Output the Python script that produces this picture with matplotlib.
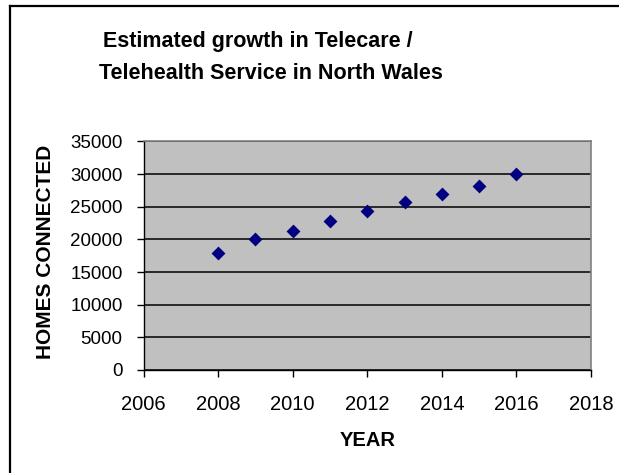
import matplotlib
matplotlib.use("Agg")
import matplotlib.pyplot as plt
from matplotlib.lines import Line2D

years = [2008, 2009, 2010, 2011, 2012, 2013, 2014, 2015, 2016]
homes = [17900, 20000, 21300, 22750, 24300, 25800, 27000, 28250, 30000]
x_ticks = [2006, 2008, 2010, 2012, 2014, 2016, 2018]
y_ticks = [0, 5000, 10000, 15000, 20000, 25000, 30000, 35000]

plt.rcParams['font.family'] = ['Liberation Sans', 'DejaVu Sans']

W, H = 619, 473
fig = plt.figure(figsize=(W / 100, H / 100), dpi=100)
fig.patch.set_facecolor('white')

# partial outer chart border (top and left visible)
fig.add_artist(Line2D([10 / W, 10 / W], [0, 1 - 6 / H], color='black', lw=1.6, transform=fig.transFigure))
fig.add_artist(Line2D([10 / W, 1], [1 - 6 / H, 1 - 6 / H], color='black', lw=1.6, transform=fig.transFigure))

left, right, top, bottom = 143.5, 591, 141.5, 370
ax = fig.add_axes([left / W, 1 - bottom / H, (right - left) / W, (bottom - top) / H])
ax.set_facecolor('#C0C0C0')
ax.set_xlim(2006, 2018)
ax.set_ylim(0, 35000)
ax.set_xticks(x_ticks)
ax.set_yticks(y_ticks)
ax.set_xticklabels([str(t) for t in x_ticks], fontsize=14.5)
ax.set_yticklabels([str(t) for t in y_ticks], fontsize=13.5)
ax.yaxis.grid(True, color='black', lw=1.1)
ax.set_axisbelow(True)
for s in ['top', 'right']:
    ax.spines[s].set_color('#808080')
    ax.spines[s].set_linewidth(1.2)
for s in ['left', 'bottom']:
    ax.spines[s].set_color('black')
    ax.spines[s].set_linewidth(1.0)
ax.tick_params(direction='out', length=5, width=1, colors='black')
ax.tick_params(axis='x', pad=13)
ax.tick_params(axis='y', pad=10)

ax.scatter(years, homes, marker='D', s=50, color='#000080', zorder=3, linewidths=0)

fig.text(367.5 / W, 1 - 446 / H, 'YEAR', ha='center', va='baseline',
         fontsize=14.5, fontweight='bold')
fig.text(45.5 / W, 1 - 251.5 / H, 'HOMES CONNECTED', ha='center', va='center',
         rotation=90, fontsize=15, fontweight='bold')

fig.text(257.5 / W, 1 - 47.3 / H, 'Estimated growth in Telecare /', ha='center', va='baseline',
         fontsize=15.5, fontweight='bold')
fig.text(270.5 / W, 1 - 79.3 / H, 'Telehealth Service in North Wales', ha='center', va='baseline',
         fontsize=15.5, fontweight='bold')

fig.savefig('out.png', dpi=100, facecolor='white')
